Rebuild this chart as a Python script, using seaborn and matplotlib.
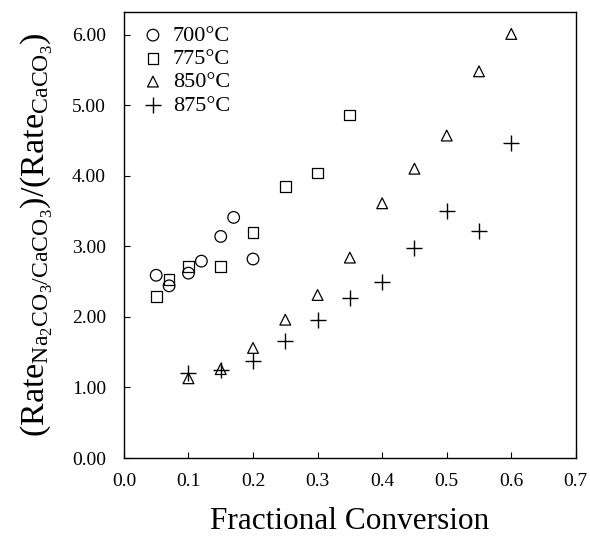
import matplotlib
matplotlib.use("Agg")
import matplotlib.pyplot as plt
import seaborn as sns
import pandas as pd

sns.set_style("ticks")
plt.rcParams['font.family'] = ['Liberation Serif', 'DejaVu Serif']
plt.rcParams['mathtext.fontset'] = 'custom'
plt.rcParams['mathtext.rm'] = 'Liberation Serif'
plt.rcParams['mathtext.it'] = 'Liberation Serif:italic'
for k in ['text.color', 'axes.labelcolor', 'xtick.color', 'ytick.color', 'axes.edgecolor']:
    plt.rcParams[k] = 'black'

# data
x_700 = [0.05, 0.07, 0.10, 0.12, 0.15, 0.17, 0.20]
y_700 = [2.59, 2.44, 2.62, 2.79, 3.14, 3.41, 2.82]
x_775 = [0.05, 0.07, 0.10, 0.15, 0.20, 0.25, 0.30, 0.35]
y_775 = [2.29, 2.53, 2.71, 2.71, 3.20, 3.85, 4.04, 4.86]
x_850 = [0.10, 0.15, 0.20, 0.25, 0.30, 0.35, 0.40, 0.45, 0.50, 0.55, 0.60]
y_850 = [1.13, 1.26, 1.56, 1.96, 2.31, 2.84, 3.61, 4.10, 4.57, 5.48, 6.01]
x_875 = [0.10, 0.15, 0.20, 0.25, 0.30, 0.35, 0.40, 0.45, 0.50, 0.55, 0.60]
y_875 = [1.20, 1.25, 1.37, 1.66, 1.96, 2.27, 2.50, 2.97, 3.50, 3.22, 4.47]
labels = ["700°C", "775°C", "850°C", "875°C"]
x_ticks = [0.0, 0.1, 0.2, 0.3, 0.4, 0.5, 0.6, 0.7]
y_ticks = [0, 1, 2, 3, 4, 5, 6]

fig = plt.figure(figsize=(5.9, 5.36), dpi=100)
ax = fig.add_axes([0.210, 0.1455, 0.766, 0.832])

series = [(x_700, y_700, 'o', 70), (x_775, y_775, 's', 60),
          (x_850, y_850, '^', 60), (x_875, y_875, '+', 130)]
for (xs, ys, m, s), lab in zip(series, labels):
    df = pd.DataFrame({'x': xs, 'y': ys})
    if m == '+':
        sns.scatterplot(data=df, x='x', y='y', marker=m, s=s, color='black',
                        linewidth=1.0, label=lab, ax=ax)
    else:
        sns.scatterplot(data=df, x='x', y='y', marker=m, s=s, facecolor='none',
                        edgecolor='black', linewidth=0.9, label=lab, ax=ax)

ax.set_xlim(0, 0.7)
ax.set_ylim(0, 6.32)
ax.set_xticks(x_ticks)
ax.set_xticklabels([f"{v:.1f}" for v in x_ticks])
ax.set_yticks(y_ticks)
ax.set_yticklabels([f"{v:.2f}" for v in y_ticks])
ax.tick_params(direction='in', length=4, width=0.8, labelsize=14)
ax.tick_params(axis='x', pad=11)
ax.tick_params(axis='y', pad=13)
for sp in ax.spines.values():
    sp.set_linewidth(1.0)
    sp.set_color('black')

ax.set_xlabel("Fractional Conversion", fontsize=22.5, labelpad=12)
ax.set_ylabel(r"$\mathrm{(Rate_{Na_2CO_3/CaCO_3})/(Rate_{CaCO_3})}$", fontsize=24.5, labelpad=12)

leg = ax.legend(loc='upper left', frameon=False, fontsize=16, handletextpad=0.4,
                labelspacing=0.12, borderaxespad=0.0, handlelength=1.0,
                bbox_to_anchor=(0.02, 0.99))

fig.savefig("out.png", dpi=100)
